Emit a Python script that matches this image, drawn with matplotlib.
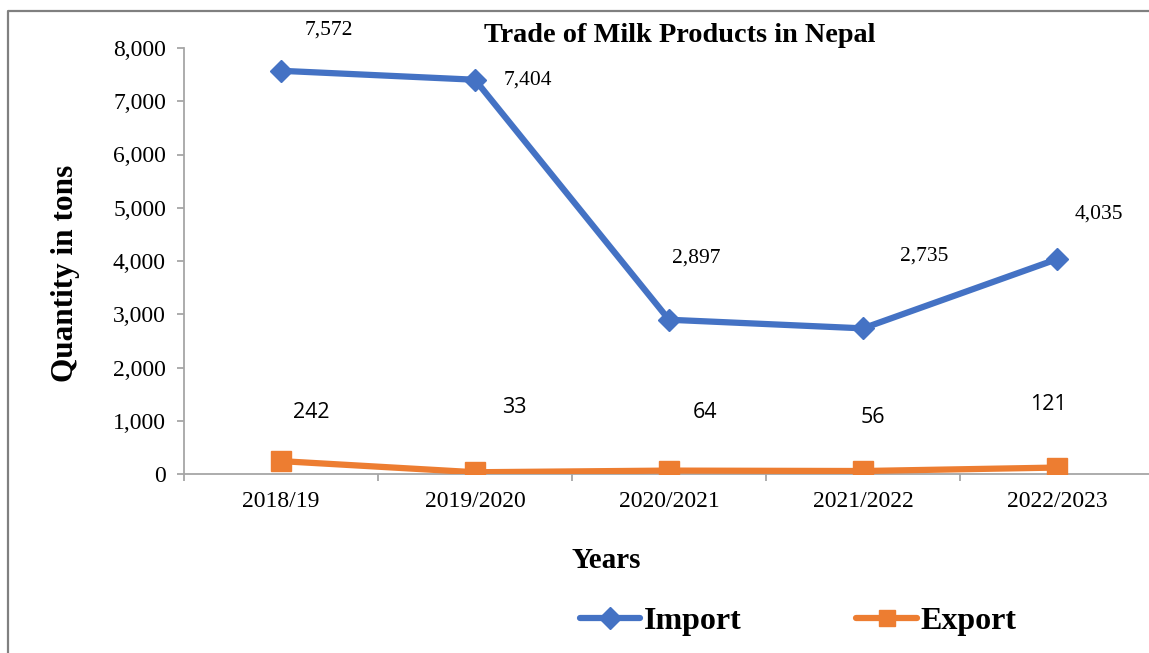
import matplotlib.pyplot as plt
from matplotlib.lines import Line2D
from matplotlib.ticker import FuncFormatter, FixedLocator

years = ['2018/19', '2019/2020', '2020/2021', '2021/2022', '2022/2023']
imports = [7572, 7404, 2897, 2735, 4035]
exports = [242, 33, 64, 56, 121]

# label offsets in pixels (dx, dy), as placed in the original chart
imp_off = [(48, 41), (53, 0), (27, 62), (61, 72), (42, 45)]
exp_off = [(30, 49), (39, 65), (36, 58), (10, 54), (-9, 63)]

blue = '#4472C4'
orange = '#ED7D31'
axis_gray = '#A6A6A6'
serif = 'Liberation Serif'

W, H = 1149, 653
fig = plt.figure(figsize=(W / 100, H / 100), dpi=100)

# outer frame (only left and top edges are visible)
fig.add_artist(Line2D([8 / W, 8 / W, 1.0], [0, 1 - 11 / H, 1 - 11 / H],
                      transform=fig.transFigure, color='#808080', lw=1.6))

ax = fig.add_axes([184 / W, 1 - 474 / H, 970 / W, (474 - 48) / H])
x = list(range(len(years)))

ax.plot(x, imports, color=blue, lw=4.5, marker='D', markersize=11,
        solid_capstyle='round', label='Import', zorder=3)
ax.plot(x, exports, color=orange, lw=4.5, marker='s', markersize=14,
        solid_capstyle='round', label='Export', zorder=3)

ax.set_xlim(-0.5, 4.5)
ax.set_ylim(0, 8000)
ax.set_yticks(range(0, 8001, 1000))
ax.yaxis.set_major_formatter(FuncFormatter(lambda v, p: f'{int(v):,}'))
ax.set_xticks(x)
ax.set_xticklabels(years)
ax.xaxis.set_minor_locator(FixedLocator([i + 0.5 for i in range(-1, 5)]))

for s in ['top', 'right']:
    ax.spines[s].set_visible(False)
for s in ['left', 'bottom']:
    ax.spines[s].set_color(axis_gray)
    ax.spines[s].set_linewidth(1.3)
ax.spines['bottom'].set_clip_on(False)

ax.tick_params(axis='y', length=5, width=1.3, color=axis_gray, pad=8,
               labelsize=17, labelcolor='black')
ax.tick_params(axis='x', which='major', length=0, pad=12,
               labelsize=17, labelcolor='black')
ax.tick_params(axis='x', which='minor', length=5, width=1.3, color=axis_gray)
for lab in ax.get_xticklabels() + ax.get_yticklabels():
    lab.set_fontfamily(serif)

for i, v in enumerate(imports):
    ax.annotate(f'{v:,}', (x[i], v), xytext=imp_off[i], textcoords='offset pixels',
                ha='center', va='center', fontsize=15.5, family=serif)
for i, v in enumerate(exports):
    ax.annotate(f'{v:,}', (x[i], v), xytext=exp_off[i], textcoords='offset pixels',
                ha='center', va='center', fontsize=15.5, family='Open Sans')

fig.text(680 / W, 1 - 35 / H, 'Trade of Milk Products in Nepal', ha='center', va='center',
         fontsize=20.3, fontweight='bold', family=serif)
fig.text(65 / W, 1 - 273 / H, 'Quantity in tons', rotation=90, ha='center', va='center',
         fontsize=22.5, fontweight='bold', family=serif)
fig.text(606 / W, 1 - 560 / H, 'Years', ha='center', va='center',
         fontsize=21, fontweight='bold', family=serif)

leg = fig.legend(loc='center', bbox_to_anchor=(798 / W, 1 - 621 / H), ncol=2,
                 frameon=False, handlelength=1.9, handletextpad=0.1, columnspacing=3.6,
                 prop={'family': serif, 'weight': 'bold', 'size': 23})
for h in leg.legend_handles:
    h.set_markersize(11)

fig.savefig('out.png', dpi=100)
